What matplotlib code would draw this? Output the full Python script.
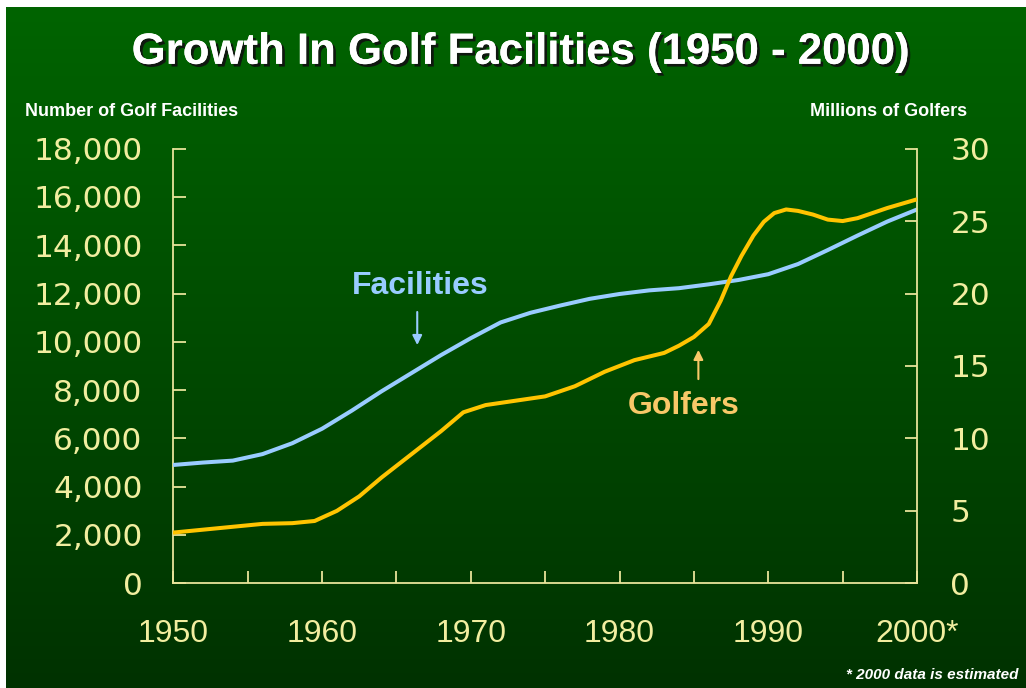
import numpy as np
import matplotlib
matplotlib.use('Agg')
import matplotlib.pyplot as plt
import matplotlib.patheffects as pe
from matplotlib.ticker import FuncFormatter, MultipleLocator

plt.rcParams['font.family'] = 'Liberation Sans'

# Number of golf facilities (left axis)
fac_years = [1950, 1952, 1954, 1956, 1958, 1960, 1962, 1964, 1966, 1968, 1970, 1972, 1974,
             1976, 1978, 1980, 1982, 1984, 1986, 1988, 1990, 1992, 1994, 1996, 1998, 2000]
facilities = [4900, 5000, 5080, 5350, 5800, 6400, 7150, 7950, 8700, 9450, 10150, 10800, 11200,
              11500, 11780, 11980, 12130, 12220, 12380, 12560, 12800, 13220, 13800, 14400, 14980, 15480]

# Millions of golfers (right axis)
golf_years = [1950, 1952, 1954, 1956, 1958, 1959.5, 1961, 1962.5, 1964, 1966, 1968, 1969.5, 1971,
              1973, 1975, 1977, 1979, 1981, 1983, 1984, 1985, 1986, 1986.8, 1987.5, 1988.2,
              1989, 1989.7, 1990.4, 1991.2, 1992, 1993, 1994, 1995, 1996, 1998, 2000]
golfers = [3.5, 3.7, 3.9, 4.1, 4.15, 4.3, 5.0, 6.0, 7.3, 8.9, 10.5, 11.8, 12.3,
           12.6, 12.9, 13.6, 14.6, 15.4, 15.9, 16.4, 17.0, 17.9, 19.5, 21.2, 22.6,
           24.0, 24.95, 25.55, 25.8, 25.7, 25.45, 25.1, 25.0, 25.2, 25.9, 26.5]

x_ticks = [1950, 1960, 1970, 1980, 1990, 2000]
x_labels = ['1950', '1960', '1970', '1980', '1990', '2000*']

label_col = '#f2eea0'
spine_col = '#e8e49a'
blue = '#99ccff'
orange = '#ffc400'

fig = plt.figure(figsize=(10.26, 6.88), dpi=100)
fig.patch.set_facecolor('white')

# green gradient panel behind everything
bg = fig.add_axes([6 / 1026, 0, 1020 / 1026, 681 / 688], zorder=-10)
grad = np.linspace(0, 1, 256).reshape(-1, 1)
top = np.array([0, 100, 0]) / 255
bot = np.array([0, 50, 0]) / 255
img = top + (bot - top) * grad[:, :, None]
bg.imshow(img, aspect='auto', extent=[0, 1, 0, 1])
bg.axis('off')

ax = fig.add_axes([0.1689, 0.1522, 0.7249, 0.6318])
ax.patch.set_alpha(0)
ax2 = ax.twinx()

ax.plot(fac_years, facilities, color=blue, lw=2.9, solid_capstyle='round',
        solid_joinstyle='round', zorder=3)
ax2.plot(golf_years, golfers, color=orange, lw=2.9, solid_capstyle='round',
         solid_joinstyle='round', zorder=4)

ax.set_xlim(1950, 2000)
ax.set_ylim(0, 18000)
ax2.set_ylim(0, 30)

ax.set_xticks(x_ticks)
ax.set_xticklabels(x_labels)
ax.xaxis.set_minor_locator(MultipleLocator(5))
ax.yaxis.set_major_locator(MultipleLocator(2000))
ax.yaxis.set_major_formatter(FuncFormatter(lambda v, p: f'{int(v):,}'))
ax2.yaxis.set_major_locator(MultipleLocator(5))

for a in (ax, ax2):
    for s in a.spines.values():
        s.set_color(spine_col)
        s.set_linewidth(1.3)
    a.spines['top'].set_visible(False)

ax.spines['right'].set_visible(False)
ax2.spines['left'].set_visible(False)
ax2.spines['bottom'].set_visible(False)

ax.tick_params(axis='x', which='both', direction='in', length=9, width=1.3, color=spine_col,
               labelcolor=label_col, labelsize=23, pad=26)
ax.tick_params(axis='y', direction='in', length=9, width=1.3, color=spine_col,
               labelcolor=label_col, labelsize=22.5, pad=22)
ax2.tick_params(axis='y', direction='in', length=9, width=1.3, color=spine_col,
                labelcolor=label_col, labelsize=22.5, pad=24)
# the value labels on both y axes are set in a wider face
for lbl in ax.get_yticklabels() + ax2.get_yticklabels():
    lbl.set_family('DejaVu Sans')

# title with drop shadow
fig.text(0.507, 0.924, 'Growth In Golf Facilities (1950 - 2000)', ha='center', va='center',
         color='white', fontsize=31.5, fontweight='bold',
         path_effects=[pe.withSimplePatchShadow(offset=(2, -2), shadow_rgbFace='#111111', alpha=0.9),
                       pe.Normal()])

fig.text(25 / 1026, 1 - 112 / 688, 'Number of Golf Facilities', ha='left', va='center',
         color='white', fontsize=13, fontweight='bold')
fig.text(967 / 1026, 1 - 112 / 688, 'Millions of Golfers', ha='right', va='center',
         color='white', fontsize=13, fontweight='bold')

# series labels with arrows
ax.text(1966.6, 12300, 'Facilities', ha='center', va='center', color=blue,
        fontsize=23, fontweight='bold')
ax.annotate('', xy=(1966.4, 9750), xytext=(1966.4, 11350),
            arrowprops=dict(arrowstyle='-|>', color=blue, lw=1.5, mutation_scale=14))
ax2.text(1984.3, 12.25, 'Golfers', ha='center', va='center', color='#f8c868',
         fontsize=23, fontweight='bold')
ax2.annotate('', xy=(1985.3, 16.3), xytext=(1985.3, 13.9),
             arrowprops=dict(arrowstyle='-|>', color='#f8c868', lw=1.5, mutation_scale=14))

fig.text(1018 / 1026, 1 - 675 / 688, '* 2000 data is estimated', ha='right', va='center',
         color='white', fontsize=11, fontweight='bold', style='italic')

fig.savefig('out.png', dpi=100)
